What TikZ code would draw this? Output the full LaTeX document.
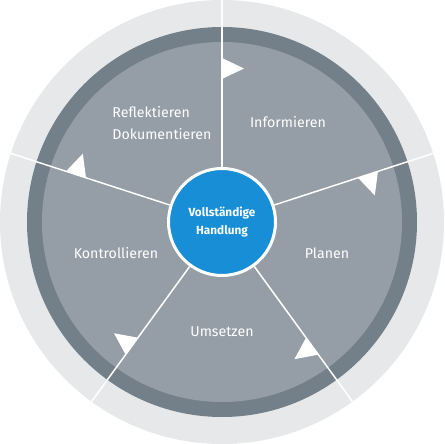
\documentclass[tikz,border=0pt]{standalone}
\usepackage{fontspec}
\setmainfont{Fira Sans}
\usepackage{tikz}
\definecolor{ringLight}{RGB}{230, 232, 234}
\definecolor{ringDark}{RGB}{116, 128, 137}
\definecolor{sectorGray}{RGB}{149, 158, 166}
\definecolor{hubBlue}{RGB}{24, 142, 214}
\tikzset{
  steplabel/.style={text=white, font=\fontsize{14.2}{22}\selectfont, align=center},
  hubnode/.style={circle, fill=hubBlue, draw=white, line width=3pt, minimum size=107pt,
    text=white, font=\fontsize{11.8}{18}\selectfont\bfseries, align=center}
}
\begin{document}
\begin{tikzpicture}[x=1pt, y=1pt]
        \useasboundingbox (-222,-222) rectangle (222,222);
        \fill[ringLight] (0,0) circle (222);
        \fill[ringDark] (0,0) circle (195);
        \fill[sectorGray] (0,0) circle (180);
        \node[hubnode] (hub) at (0,0) {Vollständige\\Handlung};
        % boundaries between the steps, with the direction marks
        \foreach \a in {90, 18, -54, -126, 162} {
          \coordinate (rim\a) at (\a:222);
          \draw[white, line width=1.5pt] (hub) -- (rim\a);
          \fill[white, rotate=\a] (143,0) -- (164,0) -- (153.5,-22) -- cycle;
        }
        \node[steplabel] (inf) at (66,100) {Informieren};
        \node[steplabel, align=left] (ref) at (-60,98.5) {Reflektieren\\Dokumentieren};
        \node[steplabel] (pla) at (105,-31) {Planen};
        \node[steplabel] (ums) at (0,-110) {Umsetzen};
        \node[steplabel] (kon) at (-106,-31) {Kontrollieren};
      \end{tikzpicture}
\end{document}
